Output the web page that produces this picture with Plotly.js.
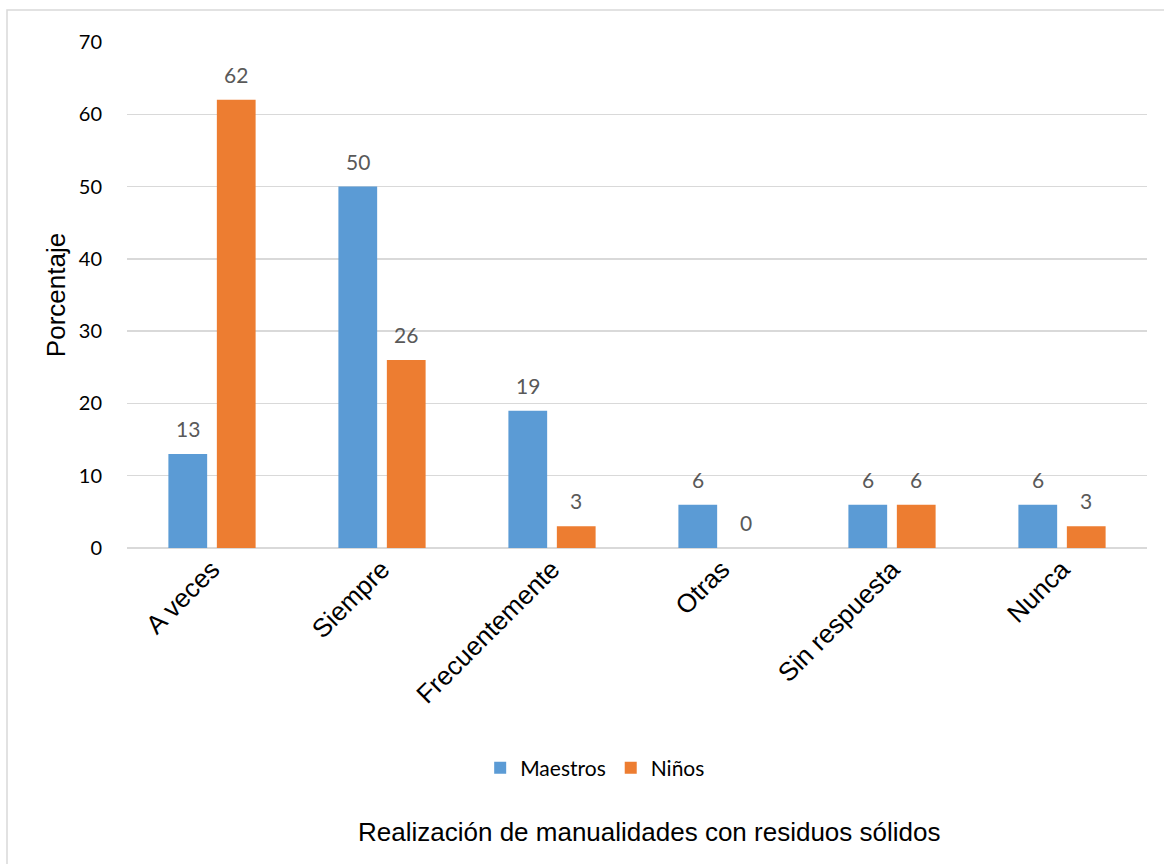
<!DOCTYPE html>
<html>
<head>
<meta charset="utf-8">
<script src="https://cdn.plot.ly/plotly-3.0.1.min.js"></script>
<style>
  html, body { margin: 0; padding: 0; background: #ffffff; }
  #chart { width: 1164px; height: 864px; }
</style>
</head>
<body>
<div id="chart"></div>
<script>
const categories = ["A veces", "Siempre", "Frecuentemente", "Otras", "Sin respuesta", "Nunca"];
const maestros = [13, 50, 19, 6, 6, 6];
const ninos = [62, 26, 3, 0, 6, 3];
const yTicks = [0, 10, 20, 30, 40, 50, 60, 70];

const labelFont = { family: "Lato, 'Open Sans', sans-serif", size: 21, color: "#595959" };

const traces = [
  {
    type: "bar", name: "Maestros", x: categories, y: maestros,
    marker: { color: "#5B9BD5" }, hoverinfo: "x+y"
  },
  {
    type: "bar", name: "Niños", x: categories, y: ninos,
    marker: { color: "#ED7D31" }, hoverinfo: "x+y"
  }
];

// data labels: placed at each bar's value through the axes, offset by the bar slot
const slotShift = 24.25;
const dataLabels = [];
[[maestros, -slotShift], [ninos, slotShift]].forEach(([vals, dx]) => {
  vals.forEach((v, i) => {
    dataLabels.push({
      text: String(v), x: categories[i], y: v, xref: "x", yref: "y",
      xshift: dx, yshift: 11, xanchor: "center", yanchor: "bottom",
      showarrow: false, font: labelFont
    });
  });
});

const layout = {
  width: 1164, height: 864,
  margin: { l: 127, r: 17, t: 42, b: 316 },
  paper_bgcolor: "#ffffff", plot_bgcolor: "#ffffff",
  barmode: "group", bargap: 0.43, bargroupgap: 0.2,
  showlegend: true,
  legend: {
    orientation: "h", x: 0.459, xanchor: "center", y: -0.435, yanchor: "middle",
    font: { family: "Lato, 'Open Sans', sans-serif", size: 21, color: "#000000" },
    itemwidth: 30, traceorder: "normal"
  },
  xaxis: {
    type: "category", tickangle: -45,
    tickfont: { family: "Arial, 'Liberation Sans', sans-serif", size: 26, color: "#000000" },
    showgrid: false, showline: false, ticks: "", automargin: false
  },
  yaxis: {
    range: [0, 70], tickvals: yTicks, ticktext: yTicks.map(String),
    tickfont: { family: "Lato, 'Open Sans', sans-serif", size: 20, color: "#000000" },
    showgrid: true, gridcolor: "#d9d9d9", gridwidth: 1.5,
    zeroline: true, zerolinecolor: "#d9d9d9", zerolinewidth: 1.5,
    showline: false, ticks: "", ticklabelstandoff: 24, automargin: false,
    title: { text: "Porcentaje", font: { family: "Arial, 'Liberation Sans', sans-serif", size: 26, color: "#000000" }, standoff: 5 }
  },
  annotations: dataLabels.concat([
    {
      text: "Realización de manualidades con residuos sólidos",
      xref: "paper", yref: "paper", x: (649 - 127) / 1020, y: (548 - 832) / 506,
      xanchor: "center", yanchor: "middle", showarrow: false,
      font: { family: "Arial, 'Liberation Sans', sans-serif", size: 26, color: "#000000" }
    }
  ]),
  shapes: [
    {
      type: "rect", xref: "paper", yref: "paper",
      x0: (7 - 127) / 1020, x1: 1.2, y0: -0.8, y1: (548 - 10) / 506,
      line: { color: "#d9d9d9", width: 1.5 }, fillcolor: "rgba(0,0,0,0)", layer: "below"
    }
  ]
};

Plotly.newPlot("chart", traces, layout, { staticPlot: true, displayModeBar: false });
</script>
</body>
</html>
